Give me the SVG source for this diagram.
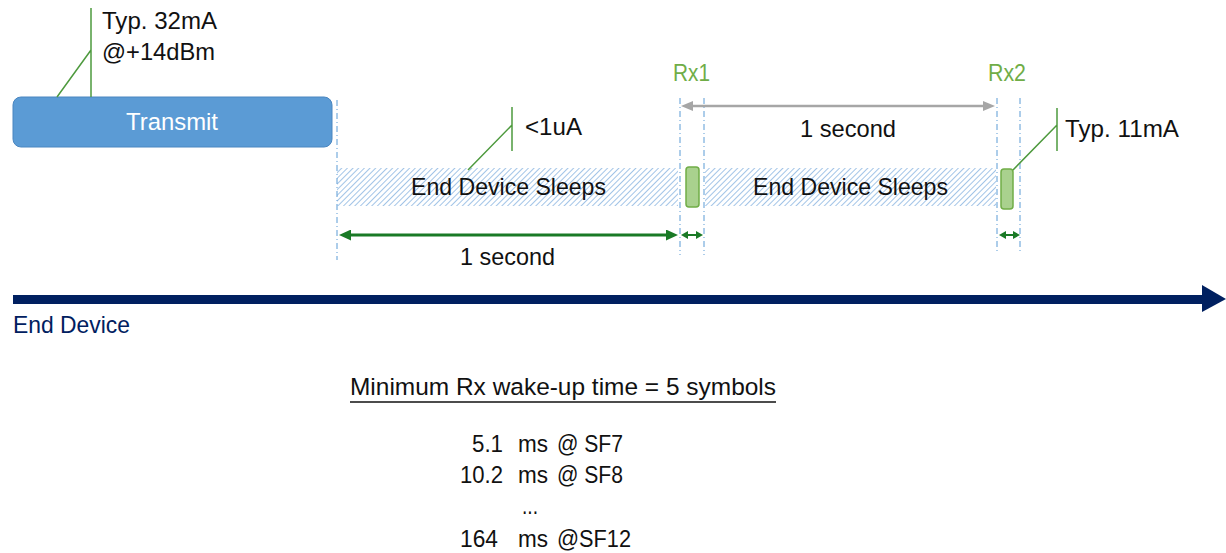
<svg xmlns="http://www.w3.org/2000/svg" width="1226" height="553" viewBox="0 0 1226 553">
<style>
text{font-family:"Liberation Sans",Arial,sans-serif;font-size:24.5px;fill:#111}
.rx{fill:#70AD47}
.white{fill:#fff}
.navy{fill:#002060}
.row{font-size:23.5px}
.call{stroke:#4E9A3E;stroke-width:1.5;fill:none}
.guide{stroke:#5B9BD5;stroke-width:1;stroke-dasharray:6,3,1,3;fill:none}
.rxbox{fill:#A9D18E;stroke:#70AD47;stroke-width:1.5}
.hatch{fill:url(#hatch)}
.garrow{stroke:#1A7A26;fill:none}
.grey{stroke:#A6A6A6;stroke-width:2.5;fill:none}
</style>
<defs>
<pattern id="hatch" patternUnits="userSpaceOnUse" width="4" height="4" patternTransform="rotate(45)">
<line x1="0" y1="0" x2="0" y2="4" stroke="#6FA3DA" stroke-width="1.3"/>
</pattern>
<marker id="gBig" markerUnits="userSpaceOnUse" markerWidth="12" markerHeight="11" refX="0" refY="5.5" orient="auto-start-reverse">
<path d="M0,0 L12,5.5 L0,11 z" fill="#1A7A26"/>
</marker>
<marker id="gSmall" markerUnits="userSpaceOnUse" markerWidth="7" markerHeight="8" refX="0" refY="4" orient="auto-start-reverse">
<path d="M0,0 L7,4 L0,8 z" fill="#1A7A26"/>
</marker>
<marker id="grey" markerUnits="userSpaceOnUse" markerWidth="12" markerHeight="10" refX="0" refY="5" orient="auto-start-reverse">
<path d="M0,0 L12,5 L0,10 z" fill="#A6A6A6"/>
</marker>
</defs>

<g id="guides">
<line class="guide" x1="337" y1="100" x2="337" y2="260"/>
<line class="guide" x1="680" y1="98" x2="680" y2="255"/>
<line class="guide" x1="704" y1="98" x2="704" y2="255"/>
<line class="guide" x1="997" y1="98" x2="997" y2="253"/>
<line class="guide" x1="1020" y1="98" x2="1020" y2="253"/>
</g>

<g id="transmit">
<rect x="13" y="97" width="319" height="50" rx="8" fill="#5B9BD5" stroke="#4A86C0" stroke-width="1"/>
<text class="white" x="126" y="130" textLength="92" lengthAdjust="spacingAndGlyphs">Transmit</text>
</g>

<g id="transmit-callout">
<path class="call" d="M91,8 L91,97 M91,50 L57,97"/>
<text x="102" y="29" textLength="115" lengthAdjust="spacingAndGlyphs">Typ. 32mA</text>
<text x="102" y="60" textLength="113" lengthAdjust="spacingAndGlyphs">@+14dBm</text>
</g>

<g id="sleep1">
<rect class="hatch" x="337" y="168" width="341" height="38"/>
<text x="411" y="195" textLength="195" lengthAdjust="spacingAndGlyphs">End Device Sleeps</text>
</g>

<g id="sleep-callout">
<path class="call" d="M512,107 L512,151 M512,125 L468,170"/>
<text x="525" y="135" textLength="57" lengthAdjust="spacingAndGlyphs">&lt;1uA</text>
</g>

<g id="rx1">
<rect class="rxbox" x="686" y="167" width="13" height="40" rx="3"/>
<text class="rx" x="673" y="81" textLength="37" lengthAdjust="spacingAndGlyphs">Rx1</text>
</g>

<g id="sleep2">
<rect class="hatch" x="705" y="168" width="291" height="38"/>
<text x="753" y="195" textLength="195" lengthAdjust="spacingAndGlyphs">End Device Sleeps</text>
</g>

<g id="rx2">
<rect class="rxbox" x="1001" y="169" width="12" height="40" rx="3"/>
<text class="rx" x="988" y="81" textLength="38" lengthAdjust="spacingAndGlyphs">Rx2</text>
</g>

<g id="rx2-callout">
<path class="call" d="M1057,108 L1057,151 M1057,125 L1013,170"/>
<text x="1065" y="137" textLength="114" lengthAdjust="spacingAndGlyphs">Typ. 11mA</text>
</g>

<g id="connectors">
<line class="garrow" stroke-width="3" x1="351" y1="235" x2="666" y2="235" marker-start="url(#gBig)" marker-end="url(#gBig)"/>
<line class="garrow" stroke-width="2" x1="688" y1="235" x2="696" y2="235" marker-start="url(#gSmall)" marker-end="url(#gSmall)"/>
<line class="garrow" stroke-width="2" x1="1006" y1="235" x2="1013" y2="235" marker-start="url(#gSmall)" marker-end="url(#gSmall)"/>
<line class="grey" x1="693" y1="106" x2="983" y2="106" marker-start="url(#grey)" marker-end="url(#grey)"/>
</g>

<g id="duration-labels">
<text x="460" y="265" textLength="95" lengthAdjust="spacingAndGlyphs">1 second</text>
<text x="800" y="137" textLength="96" lengthAdjust="spacingAndGlyphs">1 second</text>
</g>

<g id="timeline">
<rect x="13" y="295" width="1190" height="9" fill="#002060"/>
<polygon points="1202,285 1226,299 1202,312" fill="#002060"/>
<text class="navy" x="13" y="333" textLength="117" lengthAdjust="spacingAndGlyphs">End Device</text>
</g>

<g id="notes">
<text x="350" y="395" textLength="426" lengthAdjust="spacingAndGlyphs">Minimum Rx wake-up time = 5 symbols</text>
<line x1="350" y1="402" x2="776" y2="402" stroke="#111" stroke-width="1.3"/>
<text class="row" y="452"><tspan x="472" textLength="31" lengthAdjust="spacingAndGlyphs">5.1</tspan><tspan x="518" textLength="30" lengthAdjust="spacingAndGlyphs">ms</tspan><tspan x="557" textLength="66" lengthAdjust="spacingAndGlyphs">@ SF7</tspan></text>
<text class="row" y="483"><tspan x="460" textLength="43" lengthAdjust="spacingAndGlyphs">10.2</tspan><tspan x="518" textLength="30" lengthAdjust="spacingAndGlyphs">ms</tspan><tspan x="557" textLength="66" lengthAdjust="spacingAndGlyphs">@ SF8</tspan></text>
<text class="row" x="522" y="514" textLength="16" lengthAdjust="spacingAndGlyphs">...</text>
<text class="row" y="547"><tspan x="460" textLength="38" lengthAdjust="spacingAndGlyphs">164</tspan><tspan x="518" textLength="30" lengthAdjust="spacingAndGlyphs">ms</tspan><tspan x="557" textLength="74" lengthAdjust="spacingAndGlyphs">@SF12</tspan></text>
</g>
</svg>
